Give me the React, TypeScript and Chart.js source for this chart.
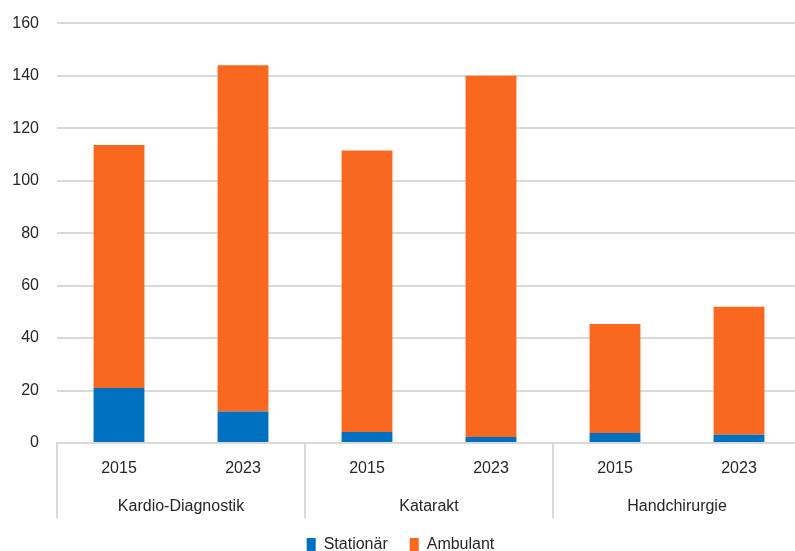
import React, { useEffect, useRef } from "react";
import { Chart, registerables } from "chart.js";

Chart.register(...registerables);

const years = ["2015", "2023", "2015", "2023", "2015", "2023"];
const groups = ["Kardio-Diagnostik", "Katarakt", "Handchirurgie"];
const stationaer = [21, 12, 4.2, 2.3, 3.8, 3.1];
const ambulant = [92.6, 132, 107.3, 137.7, 41.6, 48.8];
const yTicks = { min: 0, max: 160, step: 20 };

const FONT = "'Liberation Sans', Arial, sans-serif";
const TEXT = "#262626";
const GRID = "#d9d9d9";

const groupPlugin = {
  id: "groupLabels",
  afterDraw(chart: any) {
    const x = chart.scales.x;
    const area = chart.chartArea;
    const ctx = chart.ctx;
    const n = years.length;
    const per = n / groups.length;
    const half = (x.getPixelForValue(1) - x.getPixelForValue(0)) / 2;
    ctx.save();
    ctx.strokeStyle = GRID;
    ctx.lineWidth = 2;
    for (let g = 0; g < groups.length; g++) {
      const start = x.getPixelForValue(g * per) - half;
      ctx.beginPath();
      ctx.moveTo(Math.round(start), area.bottom);
      ctx.lineTo(Math.round(start), area.bottom + 75);
      ctx.stroke();
    }
    ctx.fillStyle = TEXT;
    ctx.font = `16px ${FONT}`;
    ctx.textAlign = "center";
    ctx.textBaseline = "middle";
    for (let g = 0; g < groups.length; g++) {
      const a = x.getPixelForValue(g * per);
      const b = x.getPixelForValue(g * per + per - 1);
      ctx.fillText(groups[g], (a + b) / 2, area.bottom + 64);
    }
    ctx.restore();
  },
};

export default function App() {
  const ref = useRef<HTMLCanvasElement>(null);
  useEffect(() => {
    if (!ref.current) return;
    const chart = new Chart(ref.current, {
      type: "bar",
      data: {
        labels: years,
        datasets: [
          {
            label: "Stationär",
            data: stationaer,
            backgroundColor: "#0070C0",
            barPercentage: 0.41,
            categoryPercentage: 1,
          },
          {
            label: "Ambulant",
            data: ambulant,
            backgroundColor: "#FA671E",
            barPercentage: 0.41,
            categoryPercentage: 1,
          },
        ],
      },
      options: {
        responsive: false,
        animation: false,
        layout: { padding: { top: 0, left: 0, right: 0, bottom: 0 } },
        plugins: {
          legend: {
            position: "bottom",
            labels: {
              boxWidth: 9,
              boxHeight: 14,
              padding: 22,
              color: TEXT,
              font: { family: FONT, size: 16 },
            },
          },
          tooltip: { enabled: false },
        },
        scales: {
          x: {
            stacked: true,
            grid: { display: false },
            border: { display: true, color: GRID, width: 2 },
            ticks: {
              color: TEXT,
              font: { family: FONT, size: 16 },
              padding: 8,
            },
            afterFit: (s: any) => {
              s.height = 72;
            },
          },
          y: {
            stacked: true,
            min: yTicks.min,
            max: yTicks.max,
            grid: { color: GRID, lineWidth: 2, drawTicks: false },
            border: { display: false },
            ticks: {
              stepSize: yTicks.step,
              color: TEXT,
              font: { family: FONT, size: 16, lineHeight: 0.65 },
              padding: 18,
            },
            afterFit: (s: any) => {
              s.width = 57;
            },
          },
        },
      },
      plugins: [groupPlugin],
    });
    return () => chart.destroy();
  }, []);
  return (
    <div
      style={{
        position: "fixed",
        left: 0,
        top: 0,
        width: 795,
        height: 551,
        overflow: "hidden",
        background: "#fff",
      }}
    >
      <canvas ref={ref} width={801} height={563} style={{ display: "block" }} />
    </div>
  );
}
